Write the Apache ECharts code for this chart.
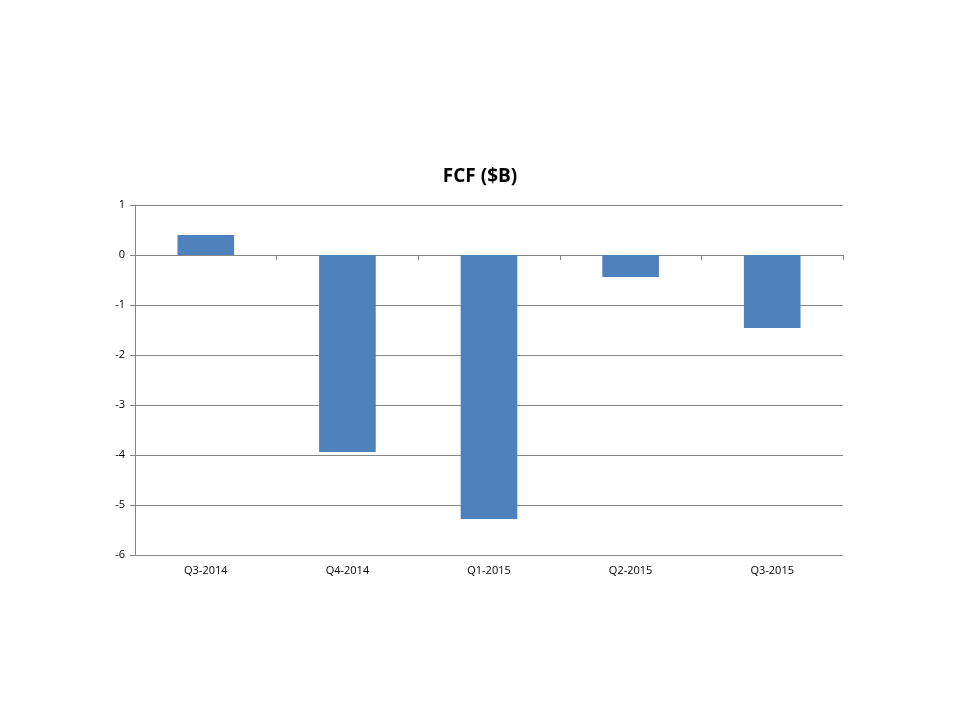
<!DOCTYPE html>
<html style="height: 100%">
<head>
  <meta charset="utf-8">
  <title>FCF ($B)</title>
  <script src="https://cdn.jsdelivr.net/npm/echarts@6/dist/echarts.min.js"></script>
</head>
<body style="margin: 0; height: 100%; background: #fff">
  <div id="main" style="width: 960px; height: 720px"></div>
  <script>
    const quarters = ['Q3-2014', 'Q4-2014', 'Q1-2015', 'Q2-2015', 'Q3-2015'];
    const fcf = [0.4, -3.94, -5.28, -0.44, -1.46];

    const chart = echarts.init(document.getElementById('main'));
    chart.setOption({
      animation: false,
      title: {
        text: 'FCF ($B)',
        left: 'center',
        top: 162,
        textStyle: { fontFamily: 'Open Sans', fontSize: 19, fontWeight: 'bold', color: '#000' }
      },
      grid: { left: 135, right: 117, top: 205, bottom: 165 },
      xAxis: {
        type: 'category',
        data: quarters,
        axisLine: { onZero: true, lineStyle: { color: '#868686' } },
        axisTick: { show: true, length: 5, lineStyle: { color: '#868686' } },
        axisLabel: { color: '#000', fontFamily: 'Open Sans', fontSize: 11, margin: 10 }
      },
      yAxis: {
        type: 'value',
        min: -6,
        max: 1,
        interval: 1,
        axisLine: { show: true, lineStyle: { color: '#868686' } },
        axisTick: { show: true, length: 5, lineStyle: { color: '#868686' } },
        axisLabel: { color: '#000', fontFamily: 'Open Sans', fontSize: 11, margin: 10 },
        splitLine: { lineStyle: { color: '#868686' } }
      },
      series: [{
        type: 'bar',
        data: fcf,
        barWidth: '40%',
        itemStyle: { color: '#4f81bd' }
      }]
    });
  </script>
</body>
</html>
